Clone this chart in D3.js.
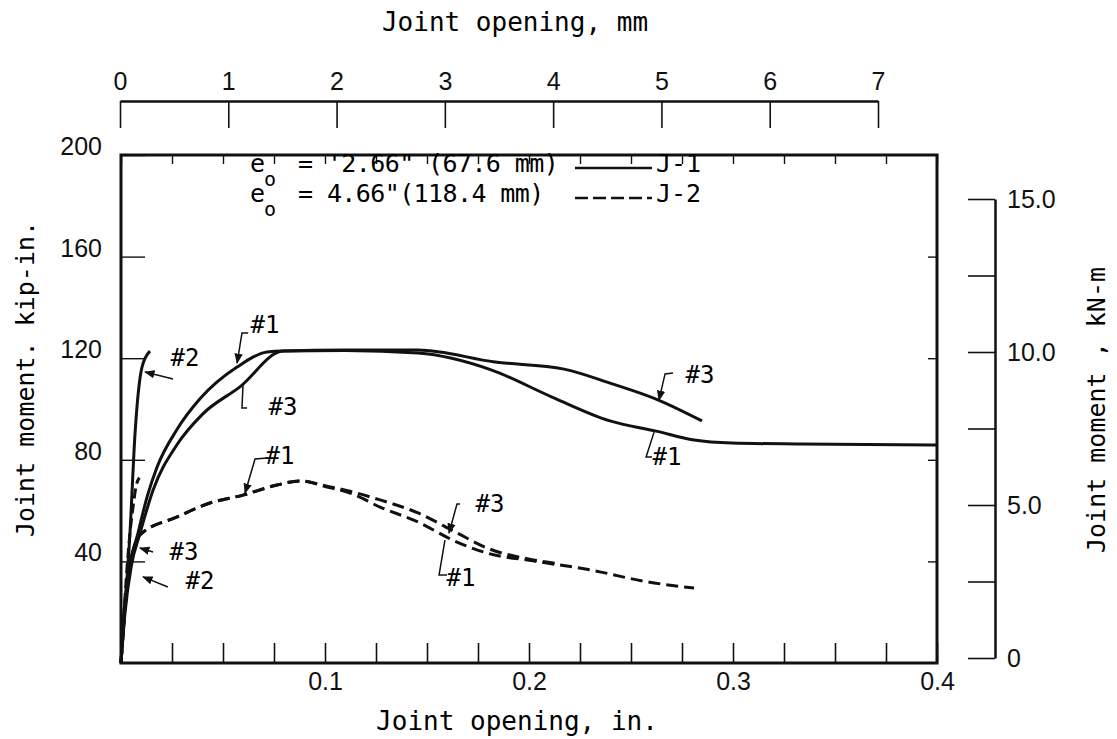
<!DOCTYPE html>
<html>
<head>
<meta charset="utf-8">
<script src="https://cdn.jsdelivr.net/npm/d3@7"></script>
<style>
  body { margin: 0; background: #fff; }
  svg { font-family: "DejaVu Sans Mono", "Liberation Mono", monospace; }
  .axis text { font-size: 25px; fill: #111; }
  .axis path, .axis line { stroke: #111; }
</style>
</head>
<body>
<svg id="chart" width="1117" height="739"></svg>
<script>
// curve data: [joint opening (in.), joint moment (kip-in.)]
const j1Curve1 = [[0, 0], [0.001, 15], [0.003, 32], [0.0083, 51], [0.013, 66], [0.0176, 77], [0.0275, 92],
  [0.0387, 104], [0.0569, 116.5], [0.0716, 122.4], [0.0794, 122.8], [0.11, 123], [0.1456, 122], [0.1814, 115.4],
  [0.2113, 104.7], [0.2397, 95.3], [0.2623, 91.3], [0.2809, 87.8], [0.2995, 86.6], [0.3333, 86.2], [0.4, 85.8]];
const j1Curve3 = [[0, 0], [0.002, 20], [0.005, 38], [0.0093, 51], [0.0157, 68], [0.0275, 86], [0.04, 98],
  [0.0583, 108.7], [0.0794, 122.8], [0.11, 123.2], [0.1456, 123.2], [0.1833, 118.5], [0.2172, 115.7],
  [0.2397, 110.2], [0.2623, 103.9], [0.2848, 95.3]];
const j1Curve2 = [[0, 0], [0.001, 11.8], [0.0044, 51.2], [0.0069, 90.6], [0.0103, 116.5], [0.0142, 122.8]];

const j2Curve1 = [[0, 0], [0.003, 30], [0.0093, 50.4], [0.0275, 57.5], [0.0436, 63], [0.0598, 66.1],
  [0.0765, 70.1], [0.0877, 71.7], [0.101, 69.3], [0.1123, 66.9], [0.127, 61.4], [0.1456, 55.5],
  [0.1647, 47.6], [0.1794, 43.3], [0.202, 40.2], [0.2304, 36.6], [0.2583, 31.9], [0.2809, 29.5]];
const j2Curve3 = [[0, 0], [0.003, 30], [0.0093, 50.4], [0.0275, 57.5], [0.0436, 63], [0.0598, 66.1],
  [0.0765, 70.1], [0.0877, 71.7], [0.101, 69.6], [0.1123, 67.6], [0.127, 64.2], [0.1456, 59.1],
  [0.1647, 51.2], [0.1794, 45.3], [0.202, 40.6], [0.215, 39]];
const j2Curve2 = [[0, 0], [0.0015, 20], [0.003, 38], [0.0045, 52], [0.006, 62], [0.0075, 70], [0.009, 73]];

// axis ticks
const inchTicks = d3.range(0, 0.4001, 0.025);
const inchLabels = [0.1, 0.2, 0.3, 0.4];
const mmTicks = [0, 1, 2, 3, 4, 5, 6, 7];
const kipTicks = [40, 80, 120, 160, 200];
const knmTicks = [0, 2.5, 5, 7.5, 10, 12.5, 15];
const knmLabels = [0, 5, 10, 15];

// curve labels: text, label position, leader points (data units)
const notes = [
  { t: "#1", at: [0.0706, 133.1], lead: [[0.0623, 129.9], [0.0593, 129.9], [0.0569, 118.1]], arrow: true },
  { t: "#3", at: [0.0794, 100.8], lead: [[0.0598, 109.4], [0.0593, 100.4], [0.0618, 100.4]] },
  { t: "#2", at: [0.0314, 120.1], lead: [[0.0255, 111.8], [0.0118, 114.6]], arrow: true },
  { t: "#1", at: [0.0779, 81.5], lead: [[0.0716, 80.7], [0.0657, 80.3], [0.0608, 66.9]], arrow: true },
  { t: "#3", at: [0.0309, 43.7], lead: [[0.0157, 43.7], [0.0093, 45.3]], arrow: true },
  { t: "#2", at: [0.0387, 32.3], lead: [[0.023, 29.9], [0.0108, 33.9]], arrow: true },
  { t: "#3", at: [0.2838, 113.4], lead: [[0.2706, 114.2], [0.2667, 113.8], [0.2637, 103.5]], arrow: true },
  { t: "#1", at: [0.2676, 81.1], lead: [[0.2613, 90.9], [0.2574, 81.1], [0.2603, 81.1]] },
  { t: "#3", at: [0.1809, 62.6], lead: [[0.1662, 62.6], [0.1647, 62.6], [0.1608, 51.2]], arrow: true },
  { t: "#1", at: [0.1667, 33.5], lead: [[0.1588, 48.4], [0.1559, 34.6], [0.1598, 34.6]] }
];

const svg = d3.select("#chart");
const plotL = 121, plotR = 937, plotT = 155, plotB = 663;

const x = d3.scaleLinear().domain([0, 0.4]).range([plotL, plotR]);
const y = d3.scaleLinear().domain([0, 200]).range([plotB, plotT]);
const xmm = d3.scaleLinear().domain([0, 7]).range([120, 878]);
const yknm = d3.scaleLinear().domain([0, 15]).range([658, 199]);

svg.append("defs").append("marker")
  .attr("id", "arr")
  .attr("viewBox", "0 0 10 10")
  .attr("refX", 9).attr("refY", 5)
  .attr("markerWidth", 7).attr("markerHeight", 7)
  .attr("orient", "auto-start-reverse")
  .append("path").attr("d", "M0,1 L10,5 L0,9 z").attr("fill", "#111");

// bottom axis (in.)
const bAxis = svg.append("g").attr("class", "axis")
  .attr("transform", `translate(0,${plotB})`)
  .call(d3.axisBottom(x).tickValues(inchTicks).tickSize(-20).tickSizeOuter(0).tickPadding(9)
    .tickFormat(d => inchLabels.some(v => Math.abs(v - d) < 1e-6) ? d3.format(".1f")(d) : ""));
bAxis.selectAll("line").attr("stroke-width", 1.6);
bAxis.select(".domain").remove();

// top border ticks
const tAxis = svg.append("g").attr("class", "axis")
  .attr("transform", `translate(0,${plotT})`)
  .call(d3.axisTop(x).tickValues(inchTicks).tickSize(-9).tickSizeOuter(0).tickFormat(""));
tAxis.selectAll("line").attr("stroke-width", 1.4);
tAxis.select(".domain").remove();

// left axis (kip-in.)
const lAxis = svg.append("g").attr("class", "axis")
  .attr("transform", `translate(${plotL},0)`)
  .call(d3.axisLeft(y).tickValues(kipTicks).tickSize(-24).tickSizeOuter(0).tickPadding(19));
lAxis.selectAll("line").attr("stroke-width", 1.4);
lAxis.selectAll("text").attr("dy", "-0.02em");
lAxis.select(".domain").remove();

// right border ticks
const rbAxis = svg.append("g").attr("class", "axis")
  .attr("transform", `translate(${plotR},0)`)
  .call(d3.axisRight(y).tickValues([40, 80, 120, 160]).tickSize(-9).tickSizeOuter(0).tickFormat(""));
rbAxis.selectAll("line").attr("stroke-width", 1.4);
rbAxis.select(".domain").remove();

// plot frame
svg.append("rect")
  .attr("x", plotL).attr("y", plotT)
  .attr("width", plotR - plotL).attr("height", plotB - plotT)
  .attr("fill", "none").attr("stroke", "#111").attr("stroke-width", 3);

// top axis (mm)
const mAxis = svg.append("g").attr("class", "axis")
  .attr("transform", "translate(0,101)")
  .call(d3.axisTop(xmm).tickValues(mmTicks).tickSize(-27).tickSizeOuter(0).tickPadding(11)
    .tickFormat(d3.format("d")));
mAxis.selectAll("line").attr("stroke-width", 1.6);
mAxis.select(".domain").attr("stroke-width", 2.5);

// right axis (kN-m)
const kAxis = svg.append("g").attr("class", "axis")
  .attr("transform", "translate(995,0)")
  .call(d3.axisRight(yknm).tickValues(knmTicks).tickSize(-27).tickSizeOuter(0).tickPadding(12)
    .tickFormat(d => knmLabels.includes(d) ? (d === 0 ? "0" : d3.format(".1f")(d)) : ""));
kAxis.selectAll("line").attr("stroke-width", 1.6);
kAxis.select(".domain").attr("stroke-width", 2.5);

// axis titles
svg.append("text").attr("x", 515).attr("y", 31).attr("text-anchor", "middle")
  .attr("font-size", 26).text("Joint opening, mm");
svg.append("text").attr("x", 517).attr("y", 730).attr("text-anchor", "middle")
  .attr("font-size", 26).text("Joint opening, in.");
svg.append("text").attr("transform", "translate(34,379) rotate(-90)").attr("text-anchor", "middle")
  .attr("font-size", 25).text("Joint moment. kip-in.");
svg.append("text").attr("transform", "translate(1105,410) rotate(-90)").attr("text-anchor", "middle")
  .attr("font-size", 25).text("Joint moment , kN-m");

// curves
const line = d3.line().x(d => x(d[0])).y(d => y(d[1])).curve(d3.curveMonotoneX);
const curves = [
  { d: j1Curve1, dash: null }, { d: j1Curve3, dash: null }, { d: j1Curve2, dash: null },
  { d: j2Curve1, dash: "12,6" }, { d: j2Curve3, dash: "12,6" }, { d: j2Curve2, dash: "10,5" }
];
svg.selectAll(".curve").data(curves).join("path")
  .attr("class", "curve")
  .attr("d", c => line(c.d))
  .attr("fill", "none")
  .attr("stroke", "#111")
  .attr("stroke-width", 3)
  .attr("stroke-linejoin", "round")
  .attr("stroke-dasharray", c => c.dash);

// curve labels
const lead = d3.line().x(d => x(d[0])).y(d => y(d[1]));
svg.selectAll(".lead").data(notes).join("path")
  .attr("class", "lead")
  .attr("d", n => lead(n.lead))
  .attr("fill", "none").attr("stroke", "#111").attr("stroke-width", 1.5)
  .attr("marker-end", n => n.arrow ? "url(#arr)" : null);
svg.selectAll(".note").data(notes).join("text")
  .attr("class", "note")
  .attr("x", n => x(n.at[0])).attr("y", n => y(n.at[1]))
  .attr("text-anchor", "middle").attr("dominant-baseline", "central")
  .attr("font-size", 24).text(n => n.t);

// legend
const legendRows = [
  { val: "= '2.66\" (67.6 mm)", name: "J-1", dash: null, yb: 172 },
  { val: "= 4.66\"(118.4 mm)", name: "J-2", dash: "13,5", yb: 202 }
];
const lg = svg.append("g").attr("font-size", 25);
legendRows.forEach(r => {
  lg.append("text").attr("x", 250).attr("y", r.yb).text("e");
  lg.append("text").attr("x", 264).attr("y", r.yb + 14).attr("font-size", 20).text("o");
  lg.append("text").attr("x", 298).attr("y", r.yb).attr("letter-spacing", -0.6).text(r.val);
  lg.append("line").attr("x1", 575).attr("x2", 652)
    .attr("y1", r.yb - 4).attr("y2", r.yb - 4)
    .attr("stroke", "#111").attr("stroke-width", 2.5)
    .attr("stroke-dasharray", r.dash);
  lg.append("text").attr("x", 656).attr("y", r.yb).text(r.name);
});
</script>
</body>
</html>
